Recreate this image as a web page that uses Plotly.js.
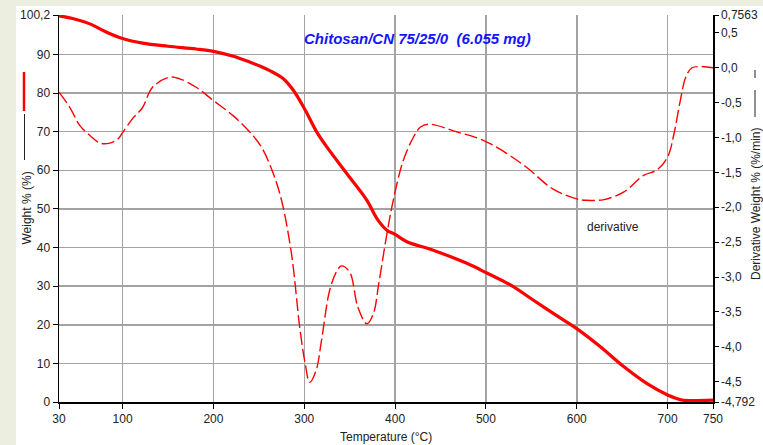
<!DOCTYPE html>
<html>
<head>
<meta charset="utf-8">
<script src="https://cdn.plot.ly/plotly-3.0.1.min.js"></script>
<style>html,body{margin:0;padding:0;background:#ECEEE0;}#chart{width:763px;height:445px;}</style>
</head>
<body>
<div id="chart"></div>
<script>
// Weight curve (solid) — temperature (°C) and weight (%)
const weightT = [30, 45, 64, 82, 100, 122, 150, 181, 200, 222, 240, 251, 262, 277, 288, 301, 314, 325, 347, 369, 380, 391, 400, 413, 442, 479, 501, 527, 552, 575, 600, 626, 652, 677, 700, 710, 716, 750];
const weightV = [100.0, 99.3, 97.9, 95.8, 94.1, 92.9, 92.1, 91.4, 90.8, 89.5, 88.0, 87.0, 85.8, 83.7, 80.7, 75.6, 69.8, 66.0, 59.1, 52.2, 47.5, 44.5, 43.4, 41.5, 39.3, 35.9, 33.4, 30.3, 26.4, 22.8, 19.0, 14.3, 9.1, 4.8, 1.8, 0.9, 0.5, 0.5];

// Derivative curve (dashed) — temperature (°C) and derivative weight (%/min)
const derivT = [30, 42, 53, 64, 75, 86, 95, 100, 111, 122, 133, 152, 163, 181, 200, 222, 240, 253, 266, 275, 286, 295, 301, 306, 313, 319, 328, 336, 341, 350, 359, 369, 376, 382, 391, 398, 409, 420, 428, 438, 468, 497, 523, 545, 574, 600, 611, 630, 652, 674, 688, 700, 707, 714, 720, 727, 750];
const derivV = [-0.35, -0.57, -0.83, -0.97, -1.08, -1.08, -1.02, -0.93, -0.73, -0.57, -0.28, -0.135, -0.16, -0.28, -0.47, -0.69, -0.92, -1.14, -1.52, -1.90, -2.67, -3.72, -4.24, -4.51, -4.34, -3.91, -3.19, -2.91, -2.84, -2.93, -3.43, -3.67, -3.53, -3.10, -2.38, -1.90, -1.33, -1.00, -0.85, -0.81, -0.92, -1.04, -1.23, -1.43, -1.74, -1.88, -1.90, -1.89, -1.78, -1.54, -1.47, -1.28, -0.95, -0.47, -0.135, 0.0, 0.0];

// Tick labels
const xTickVals = [30, 100, 200, 300, 400, 500, 600, 700, 750];
const xTickText = ["30", "100", "200", "300", "400", "500", "600", "700", "750"];
const yTickVals = [0, 10, 20, 30, 40, 50, 60, 70, 80, 90, 100.2];
const yTickText = ["0", "10", "20", "30", "40", "50", "60", "70", "80", "90", "100,2"];
const y2TickVals = [0.7563, 0.5, 0, -0.5, -1.0, -1.5, -2.0, -2.5, -3.0, -3.5, -4.0, -4.5, -4.792];
const y2TickText = ["0,7563", "0,5", "0,0", "-0,5", "-1,0", "-1,5", "-2,0", "-2,5", "-3,0", "-3,5", "-4,0", "-4,5", "-4,792"];

const titleText = "Chitosan/CN 75/25/0\u00A0\u00A0(6.055 mg)";

const FONT = "Liberation Sans, Arial, sans-serif";
const L = 59, T = 15, W = 654, H = 387;
const px = v => (v - L) / W;          // pixel x -> paper x
const py = v => (T + H - v) / H;       // pixel y -> paper y

const traces = [
  {x: weightT, y: weightV, type: 'scatter', mode: 'lines', yaxis: 'y',
   line: {color: '#ff0000', width: 3.2, shape: 'spline', smoothing: 1.0}, hoverinfo: 'skip'},
  {x: derivT, y: derivV, type: 'scatter', mode: 'lines', yaxis: 'y2',
   line: {color: '#ff0000', width: 1.4, dash: '13px,4px', shape: 'spline', smoothing: 1.0}, hoverinfo: 'skip'}
];

const axisCommon = {
  showline: true, linecolor: '#000', linewidth: 1.5,
  ticks: 'outside', ticklen: 5, tickcolor: '#000', tickwidth: 1,
  tickfont: {family: FONT, size: 12, color: '#222'},
  zeroline: false, tickmode: 'array', fixedrange: true
};

const layout = {
  width: 763, height: 445,
  margin: {l: L, r: 763 - L - W, t: T, b: 445 - T - H, pad: 0},
  paper_bgcolor: '#ECEEE0', plot_bgcolor: '#ffffff',
  showlegend: false,
  font: {family: FONT, size: 12, color: '#222'},
  xaxis: Object.assign({}, axisCommon, {
    range: [30, 750], tickvals: xTickVals, ticktext: xTickText,
    showgrid: true, gridcolor: '#a3a3a3', gridwidth: 1.5
  }),
  yaxis: Object.assign({}, axisCommon, {
    range: [0, 100.2], tickvals: yTickVals, ticktext: yTickText,
    showgrid: true, gridcolor: '#a3a3a3', gridwidth: 1.5
  }),
  yaxis2: Object.assign({}, axisCommon, {
    range: [-4.792, 0.7563], tickvals: y2TickVals, ticktext: y2TickText,
    overlaying: 'y', side: 'right', showgrid: false, ticklen: 4
  }),
  shapes: [
    {type: 'rect', xref: 'paper', yref: 'paper', layer: 'below',
     x0: px(16), x1: px(770), y0: py(450), y1: py(6), fillcolor: '#ffffff', line: {width: 0}},
    {type: 'line', xref: 'paper', yref: 'paper', x0: px(24), x1: px(24), y0: py(72), y1: py(111),
     line: {color: '#ff0000', width: 2.5}},
    {type: 'line', xref: 'paper', yref: 'paper', x0: px(24.5), x1: px(24.5), y0: py(114), y1: py(160),
     line: {color: '#222', width: 1}},
    {type: 'line', xref: 'paper', yref: 'paper', x0: px(755), x1: px(755), y0: py(70), y1: py(78),
     line: {color: '#222', width: 1}},
    {type: 'line', xref: 'paper', yref: 'paper', x0: px(755), x1: px(755), y0: py(90), y1: py(117),
     line: {color: '#222', width: 1}}
  ],
  annotations: [
    {text: '<b><i>' + titleText + '</i></b>', xref: 'paper', yref: 'paper', x: px(417), y: py(38),
     xanchor: 'center', yanchor: 'middle', showarrow: false,
     font: {family: FONT, size: 15, color: '#1414ff'}},
    {text: 'Weight % (%)', xref: 'paper', yref: 'paper', x: px(26), y: py(208.5),
     xanchor: 'center', yanchor: 'middle', showarrow: false, textangle: -90,
     font: {family: FONT, size: 12, color: '#222'}},
    {text: 'Derivative Weight % (%/min)', xref: 'paper', yref: 'paper', x: px(756), y: py(204),
     xanchor: 'center', yanchor: 'middle', showarrow: false, textangle: -90,
     font: {family: FONT, size: 12, color: '#222'}},
    {text: 'Temperature (°C)', xref: 'paper', yref: 'paper', x: px(385.5), y: py(437),
     xanchor: 'center', yanchor: 'middle', showarrow: false,
     font: {family: FONT, size: 12, color: '#222'}},
    {text: 'derivative', xref: 'paper', yref: 'paper', x: px(613), y: py(227),
     xanchor: 'center', yanchor: 'middle', showarrow: false,
     font: {family: FONT, size: 12, color: '#222'}}
  ]
};

Plotly.newPlot('chart', traces, layout, {staticPlot: true, displayModeBar: false});
</script>
</body>
</html>
